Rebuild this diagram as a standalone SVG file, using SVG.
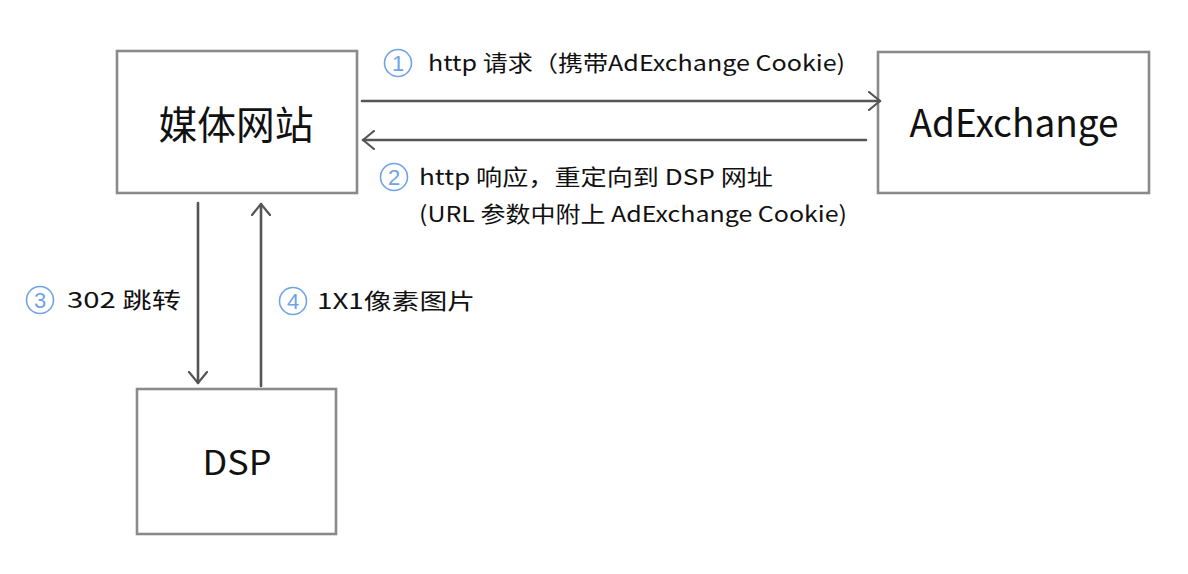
<svg xmlns="http://www.w3.org/2000/svg" width="1188" height="574" viewBox="0 0 1188 574">
<defs>
<marker id="arr" viewBox="0 0 14 20" refX="12" refY="10" markerWidth="14" markerHeight="20" markerUnits="userSpaceOnUse" orient="auto">
<path d="M1,1 L12,10 L1,19" fill="none" stroke="#555" stroke-width="2.2" stroke-linecap="round" stroke-linejoin="round"/>
</marker>
<style>
.box{fill:#fff;stroke:#8a8a8a;stroke-width:2.6}
.node{font-family:"Noto Sans CJK SC","Liberation Sans",sans-serif;fill:#111;text-anchor:middle}
.lbl{font-family:"Noto Sans CJK SC","Liberation Sans",sans-serif;font-size:22px;fill:#111}
.edge{fill:none;stroke:#555;stroke-width:2.6;stroke-linecap:round;marker-end:url(#arr)}
.num circle{fill:none;stroke:#6fa3e8;stroke-width:1.6}
.num text{font-family:"Liberation Sans",sans-serif;font-size:22px;fill:#6fa3e8;text-anchor:middle}
</style>
</defs>
<rect width="1188" height="574" fill="#fff"/>
<g id="node-media">
<rect class="box" x="117" y="51" width="240" height="142"/>
<text class="node" x="236" y="139" font-size="39" textLength="155" lengthAdjust="spacingAndGlyphs">媒体网站</text>
</g>
<g id="node-adexchange">
<rect class="box" x="878" y="52" width="271" height="141"/>
<text class="node" x="1014" y="137" font-size="38" textLength="209" lengthAdjust="spacingAndGlyphs">AdExchange</text>
</g>
<g id="node-dsp">
<rect class="box" x="137" y="389" width="199" height="145"/>
<text class="node" x="237" y="475" font-size="34" textLength="69" lengthAdjust="spacingAndGlyphs">DSP</text>
</g>
<g id="connectors">
<path class="edge" d="M362,101 L880,101"/>
<path class="edge" d="M866,140 L363,140"/>
<path class="edge" d="M198,203 L198,383"/>
<path class="edge" d="M261,386 L261,204"/>
</g>
<g id="labels">
<g class="num"><circle cx="398" cy="63" r="13.5"/><text x="398" y="71">1</text></g>
<text class="lbl" x="428" y="71" textLength="417" lengthAdjust="spacingAndGlyphs">http 请求（携带AdExchange Cookie)</text>
<g class="num"><circle cx="394" cy="177" r="13.5"/><text x="394" y="185">2</text></g>
<text class="lbl" x="419" y="185" textLength="354" lengthAdjust="spacingAndGlyphs">http 响应，重定向到 DSP 网址</text>
<text class="lbl" x="419" y="222" textLength="428" lengthAdjust="spacingAndGlyphs">(URL 参数中附上 AdExchange Cookie)</text>
<g class="num"><circle cx="40" cy="300" r="13.5"/><text x="40" y="308">3</text></g>
<text class="lbl" x="67" y="308" textLength="114" lengthAdjust="spacingAndGlyphs">302 跳转</text>
<g class="num"><circle cx="293" cy="301" r="13.5"/><text x="293" y="309">4</text></g>
<text class="lbl" x="317" y="309" textLength="158" lengthAdjust="spacingAndGlyphs">1X1像素图片</text>
</g>
</svg>
